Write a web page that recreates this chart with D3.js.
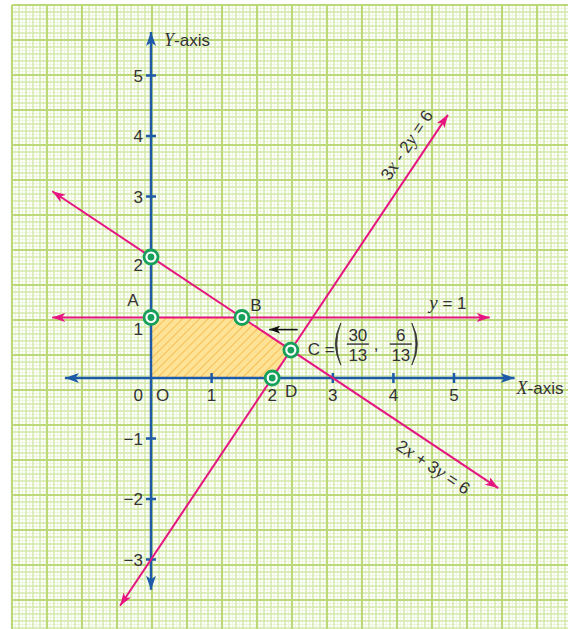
<!DOCTYPE html>
<html>
<head>
<meta charset="utf-8">
<script src="https://cdn.jsdelivr.net/npm/d3@7"></script>
<style>
  body { margin: 0; background: #fff; }
  svg { display: block; }
  text { font-family: "Liberation Sans", Arial, sans-serif; fill: #333; }
  .it { font-family: "Liberation Serif", "DejaVu Serif", serif; font-style: italic; }
</style>
</head>
<body>
<div id="container"></div>
<script>
let w = 568;
let h = 629;

// data
let xTicks = [1, 2, 3, 4, 5];
let yTicks = [-3, -2, -1, 1, 2, 3, 4, 5];
let xAxisRange = [-1.42, 6.0];
let yAxisRange = [-3.5, 5.72];

// lines: a*x + b*y = c, drawn between x0 and x1
let lineA = [2, 3, 6];
let lineB = [3, -2, 6];
let lineAExtent = [-1.63, 5.73];
let lineBExtent = [-0.51, 4.9];
let lineY1Extent = [-1.63, 5.59];

let region = [[0, 0], [0, 1], [1.5, 1], [30 / 13, 6 / 13], [2, 0]];
let corners = [[0, 2], [0, 1], [1.5, 1], [30 / 13, 6 / 13], [2, 0]];

let viz = d3.select("#container")
  .append("svg")
  .attr("width", w)
  .attr("height", h);

let defs = viz.append("defs");

function addArrow(id, color, len, wid){
  defs.append("marker")
    .attr("id", id)
    .attr("viewBox", "0 0 " + len + " " + wid)
    .attr("refX", len)
    .attr("refY", wid / 2)
    .attr("markerWidth", len)
    .attr("markerHeight", wid)
    .attr("markerUnits", "userSpaceOnUse")
    .attr("orient", "auto-start-reverse")
    .append("path")
    .attr("d", "M0,0 L" + len + "," + (wid / 2) + " L0," + wid + " L" + (len * 0.25) + "," + (wid / 2) + "Z")
    .style("fill", color);
}
addArrow("arrBlue", "#1d5aa7", 14, 10);
addArrow("arrPink", "#e6157f", 13, 9);
addArrow("arrBlack", "#111", 11, 8);

// hatch pattern for the feasible region
let pat = defs.append("pattern")
  .attr("id", "hatch")
  .attr("patternUnits", "userSpaceOnUse")
  .attr("width", 6)
  .attr("height", 6)
  .attr("patternTransform", "rotate(45)");
pat.append("rect").attr("width", 6).attr("height", 6).style("fill", "#fee396");
pat.append("line").attr("x1", 0).attr("y1", 0).attr("x2", 0).attr("y2", 6)
  .style("stroke", "#f8ba4c").style("stroke-width", 1.8);

// graph paper
let paper = viz.append("g").attr("class", "paper");
let gx0 = 12, gy0 = 5;
let gridColor = ["#bcd97a", "#d3e8a8", "#eef6de"];
let gridWidth = [2.2, 1.4, 1];
function gridKind(i){ return i % 10 == 0 ? 0 : (i % 2 == 0 ? 1 : 2); }
let vIdx = d3.range(0, Math.floor((w - gx0) / 3.5) + 1);
let hIdx = d3.range(0, Math.floor((h - gy0) / 3.5) + 1);
// light first, then medium, then thick on top
[2, 1, 0].forEach(function(k){
  paper.selectAll(".v" + k).data(vIdx.filter(function(i){ return gridKind(i) == k; })).enter()
    .append("line")
    .attr("x1", function(i){ return gx0 + i * 3.5; }).attr("x2", function(i){ return gx0 + i * 3.5; })
    .attr("y1", gy0).attr("y2", h)
    .style("stroke", gridColor[k]).style("stroke-width", gridWidth[k]);
  paper.selectAll(".h" + k).data(hIdx.filter(function(i){ return gridKind(i) == k; })).enter()
    .append("line")
    .attr("y1", function(i){ return gy0 + i * 3.5; }).attr("y2", function(i){ return gy0 + i * 3.5; })
    .attr("x1", gx0).attr("x2", w)
    .style("stroke", gridColor[k]).style("stroke-width", gridWidth[k]);
});

// scales
let xScale = d3.scaleLinear().domain([0, 5]).range([151, 454]);
let yScale = d3.scaleLinear().domain([0, 5]).range([378, 75.5]);

// feasible region
viz.append("path")
  .attr("d", "M" + region.map(function(d){ return xScale(d[0]) + "," + yScale(d[1]); }).join("L") + "Z")
  .style("fill", "url(#hatch)");

// axes
let axisGroup = viz.append("g").attr("class", "axes");
axisGroup.append("line")
  .attr("x1", xScale(xAxisRange[0])).attr("y1", yScale(0))
  .attr("x2", xScale(xAxisRange[1])).attr("y2", yScale(0))
  .style("stroke", "#1d5aa7").style("stroke-width", 2.5)
  .attr("marker-start", "url(#arrBlue)")
  .attr("marker-end", "url(#arrBlue)");
axisGroup.append("line")
  .attr("x1", xScale(0)).attr("y1", yScale(yAxisRange[0]))
  .attr("x2", xScale(0)).attr("y2", yScale(yAxisRange[1]))
  .style("stroke", "#1d5aa7").style("stroke-width", 2.5)
  .attr("marker-start", "url(#arrBlue)")
  .attr("marker-end", "url(#arrBlue)");

axisGroup.selectAll(".xtick").data(xTicks).enter().append("line")
  .attr("class", "xtick")
  .attr("x1", function(d){ return xScale(d); }).attr("x2", function(d){ return xScale(d); })
  .attr("y1", yScale(0) - 5).attr("y2", yScale(0) + 5)
  .style("stroke", "#1d5aa7").style("stroke-width", 2.5);
axisGroup.selectAll(".ytick").data(yTicks).enter().append("line")
  .attr("class", "ytick")
  .attr("x1", xScale(0) - 5).attr("x2", xScale(0) + 5)
  .attr("y1", function(d){ return yScale(d); }).attr("y2", function(d){ return yScale(d); })
  .style("stroke", "#1d5aa7").style("stroke-width", 2.5);

// tick labels
viz.selectAll(".xlab").data(xTicks).enter().append("text")
  .attr("class", "xlab")
  .attr("x", function(d){ return xScale(d); })
  .attr("y", yScale(0) + 23)
  .attr("text-anchor", "middle")
  .style("font-size", "17px")
  .text(function(d){ return d; });

function yLabelShift(d){
  if (d == 1) return 11;
  if (d == 2) return 8;
  return 0;
}
viz.selectAll(".ylab").data(yTicks).enter().append("text")
  .attr("class", "ylab")
  .attr("x", xScale(0) - 8)
  .attr("y", function(d){ return yScale(d) + 6 + yLabelShift(d); })
  .attr("text-anchor", "end")
  .style("font-size", "17px")
  .text(function(d){ return d < 0 ? "\u2212" + Math.abs(d) : d; });

viz.append("text").attr("x", xScale(0) - 8).attr("y", yScale(0) + 23)
  .attr("text-anchor", "end").style("font-size", "17px").text("0");
viz.append("text").attr("x", xScale(0) + 5).attr("y", yScale(0) + 23)
  .style("font-size", "17px").text("O");

// axis titles
let yt = viz.append("text").attr("x", xScale(0) + 13).attr("y", yScale(yAxisRange[1]) + 14)
  .style("font-size", "17px");
yt.append("tspan").attr("class", "it").style("font-size", "18px").text("Y");
yt.append("tspan").text("-axis");
let xt = viz.append("text").attr("x", xScale(xAxisRange[1]) + 2).attr("y", yScale(0) + 16)
  .style("font-size", "17px");
xt.append("tspan").attr("class", "it").style("font-size", "18px").text("X");
xt.append("tspan").text("-axis");

// constraint lines
function yOn(eq, x){ return (eq[2] - eq[0] * x) / eq[1]; }

let lineGroup = viz.append("g").attr("class", "lines");
[[lineA, lineAExtent], [lineB, lineBExtent]].forEach(function(item){
  let eq = item[0], ext = item[1];
  lineGroup.append("line")
    .attr("x1", xScale(ext[0])).attr("y1", yScale(yOn(eq, ext[0])))
    .attr("x2", xScale(ext[1])).attr("y2", yScale(yOn(eq, ext[1])))
    .style("stroke", "#e6157f").style("stroke-width", 2)
    .attr("marker-start", "url(#arrPink)")
    .attr("marker-end", "url(#arrPink)");
});
lineGroup.append("line")
  .attr("x1", xScale(lineY1Extent[0])).attr("y1", yScale(1))
  .attr("x2", xScale(lineY1Extent[1])).attr("y2", yScale(1))
  .style("stroke", "#e6157f").style("stroke-width", 2)
  .attr("marker-start", "url(#arrPink)")
  .attr("marker-end", "url(#arrPink)");

// line labels
function angleOf(eq){
  let dx = xScale(1) - xScale(0);
  let dy = yScale(yOn(eq, 1)) - yScale(yOn(eq, 0));
  return Math.atan2(dy, dx) * 180 / Math.PI;
}
function eqLabel(parts, px, py, ang){
  let t = viz.append("text")
    .attr("transform", "translate(" + px + "," + py + ") rotate(" + ang + ")")
    .attr("text-anchor", "middle").attr("dy", 6)
    .style("font-size", "17px");
  parts.forEach(function(p){
    let s = t.append("tspan").text(p[0]);
    if (p[1]) s.attr("class", "it").style("font-size", "19px");
  });
}
eqLabel([["3"], ["x", 1], [" - 2"], ["y", 1], [" = 6"]], xScale(4.22), yScale(3.85), angleOf(lineB));
eqLabel([["2"], ["x", 1], [" + 3"], ["y", 1], [" = 6"]], xScale(4.66), yScale(-1.47), angleOf(lineA));

let ly = viz.append("text").attr("x", xScale(4.9)).attr("y", yScale(1) - 9)
  .attr("text-anchor", "middle").style("font-size", "17px");
ly.append("tspan").attr("class", "it").style("font-size", "19px").text("y");
ly.append("tspan").text(" = 1");

// direction arrow
viz.append("line")
  .attr("x1", xScale(2.42)).attr("y1", yScale(0.8))
  .attr("x2", xScale(1.95)).attr("y2", yScale(0.8))
  .style("stroke", "#111").style("stroke-width", 1.6)
  .attr("marker-end", "url(#arrBlack)");

// corner points
let pts = viz.selectAll(".pt").data(corners).enter().append("g")
  .attr("class", "pt")
  .attr("transform", function(d){ return "translate(" + xScale(d[0]) + "," + yScale(d[1]) + ")"; });
pts.append("circle").attr("r", 7).style("fill", "#fff")
  .style("stroke", "#16a05a").style("stroke-width", 2.8);
pts.append("circle").attr("r", 3.4).style("fill", "#16a05a");

// point names
viz.append("text").attr("x", xScale(0) - 18).attr("y", yScale(1) - 12)
  .attr("text-anchor", "middle").style("font-size", "17px").text("A");
viz.append("text").attr("x", xScale(1.5) + 14).attr("y", yScale(1) - 7)
  .attr("text-anchor", "middle").style("font-size", "17px").text("B");
viz.append("text").attr("x", xScale(2) + 19).attr("y", yScale(0) + 19)
  .attr("text-anchor", "middle").style("font-size", "17px").text("D");

// C = (30/13, 6/13)
let cx = xScale(30 / 13), cy = yScale(6 / 13);
let cLab = viz.append("g").attr("transform", "translate(" + (cx + 17) + "," + cy + ")");
cLab.append("text").attr("x", 0).attr("y", 5).style("font-size", "17px").text("C =");
function paren(x, dir){
  // dir = 1 for "(", -1 for ")"
  cLab.append("path")
    .attr("d", "M" + x + ",-27 Q" + (x - dir * 11) + ",-6 " + x + ",15 Q" + (x - dir * 8) + ",-6 " + x + ",-27Z")
    .style("fill", "#333").style("stroke", "#333").style("stroke-width", 0.8);
}
paren(33, 1);
cLab.append("text").attr("x", 50).attr("y", -9).attr("text-anchor", "middle")
  .style("font-size", "17px").text("30");
cLab.append("line").attr("x1", 39).attr("x2", 61).attr("y1", -6).attr("y2", -6)
  .style("stroke", "#333").style("stroke-width", 1.4);
cLab.append("text").attr("x", 50).attr("y", 11).attr("text-anchor", "middle")
  .style("font-size", "17px").text("13");
cLab.append("text").attr("x", 66).attr("y", 0).style("font-size", "17px").text(",");
cLab.append("text").attr("x", 93).attr("y", -9).attr("text-anchor", "middle")
  .style("font-size", "17px").text("6");
cLab.append("line").attr("x1", 82).attr("x2", 104).attr("y1", -6).attr("y2", -6)
  .style("stroke", "#333").style("stroke-width", 1.4);
cLab.append("text").attr("x", 93).attr("y", 11).attr("text-anchor", "middle")
  .style("font-size", "17px").text("13");
paren(104, -1);
</script>
</body>
</html>
